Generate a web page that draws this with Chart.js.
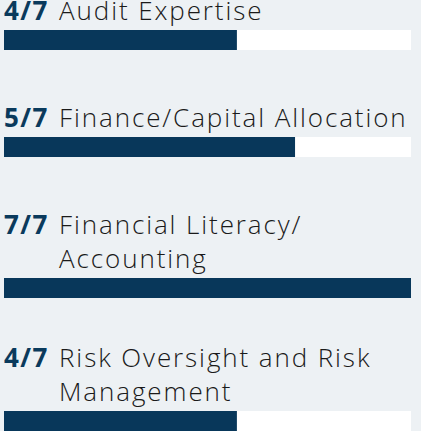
<!DOCTYPE html>
<html>
<head>
<meta charset="utf-8">
<script src="https://cdn.jsdelivr.net/npm/chart.js@4/dist/chart.umd.min.js"></script>
<style>
  html, body { margin: 0; padding: 0; background: #edf1f4; overflow: hidden; }
  #skills { width: 407px; margin: -7px 0 0 4px; font-family: "Open Sans", "Noto Sans", sans-serif; }
  .row { margin-bottom: 50px; }
  .row:nth-child(3) { margin-bottom: 42px; }
  .label { display: flex; font-size: 26px; line-height: 34px; margin-bottom: 3px; }
  .score { flex: 0 0 55px; font-weight: 700; color: #0a3a5c; letter-spacing: 1.5px; }
  .name { color: #1a1a1a; font-weight: 300; letter-spacing: 1.9px; }
  .bar { position: relative; height: 20px; width: 407px; }
</style>
</head>
<body>
<div id="skills"></div>
<script>
const skills = ['Audit Expertise', 'Finance/Capital Allocation', ['Financial Literacy/', 'Accounting'], ['Risk Oversight and Risk', 'Management']];
const counts = [4, 5, 7, 4];
const boardSize = 7;

const navy = '#08375a';
const wrap = document.getElementById('skills');

skills.forEach((s, i) => {
    const row = document.createElement('div');
    row.className = 'row';
    const lines = Array.isArray(s) ? s : [s];
    row.innerHTML = `
        <div class="label">
            <span class="score">${counts[i]}/${boardSize}</span>
            <span class="name">${lines.join('<br>')}</span>
        </div>
        <div class="bar"><canvas></canvas></div>
    `;
    wrap.appendChild(row);

    new Chart(row.querySelector('canvas'), {
        type: 'bar',
        data: {
            labels: [lines.join(' ')],
            datasets: [
                { data: [counts[i]], backgroundColor: navy, order: 1 },
                { data: [boardSize], backgroundColor: '#ffffff', order: 2 }
            ]
        },
        options: {
            indexAxis: 'y',
            responsive: true,
            maintainAspectRatio: false,
            animation: false,
            datasets: { bar: { grouped: false, barPercentage: 1, categoryPercentage: 1 } },
            layout: { padding: 0 },
            plugins: { legend: { display: false }, tooltip: { enabled: false } },
            scales: {
                x: { display: false, min: 0, max: boardSize },
                y: { display: false }
            }
        }
    });
});
</script>
</body>
</html>
